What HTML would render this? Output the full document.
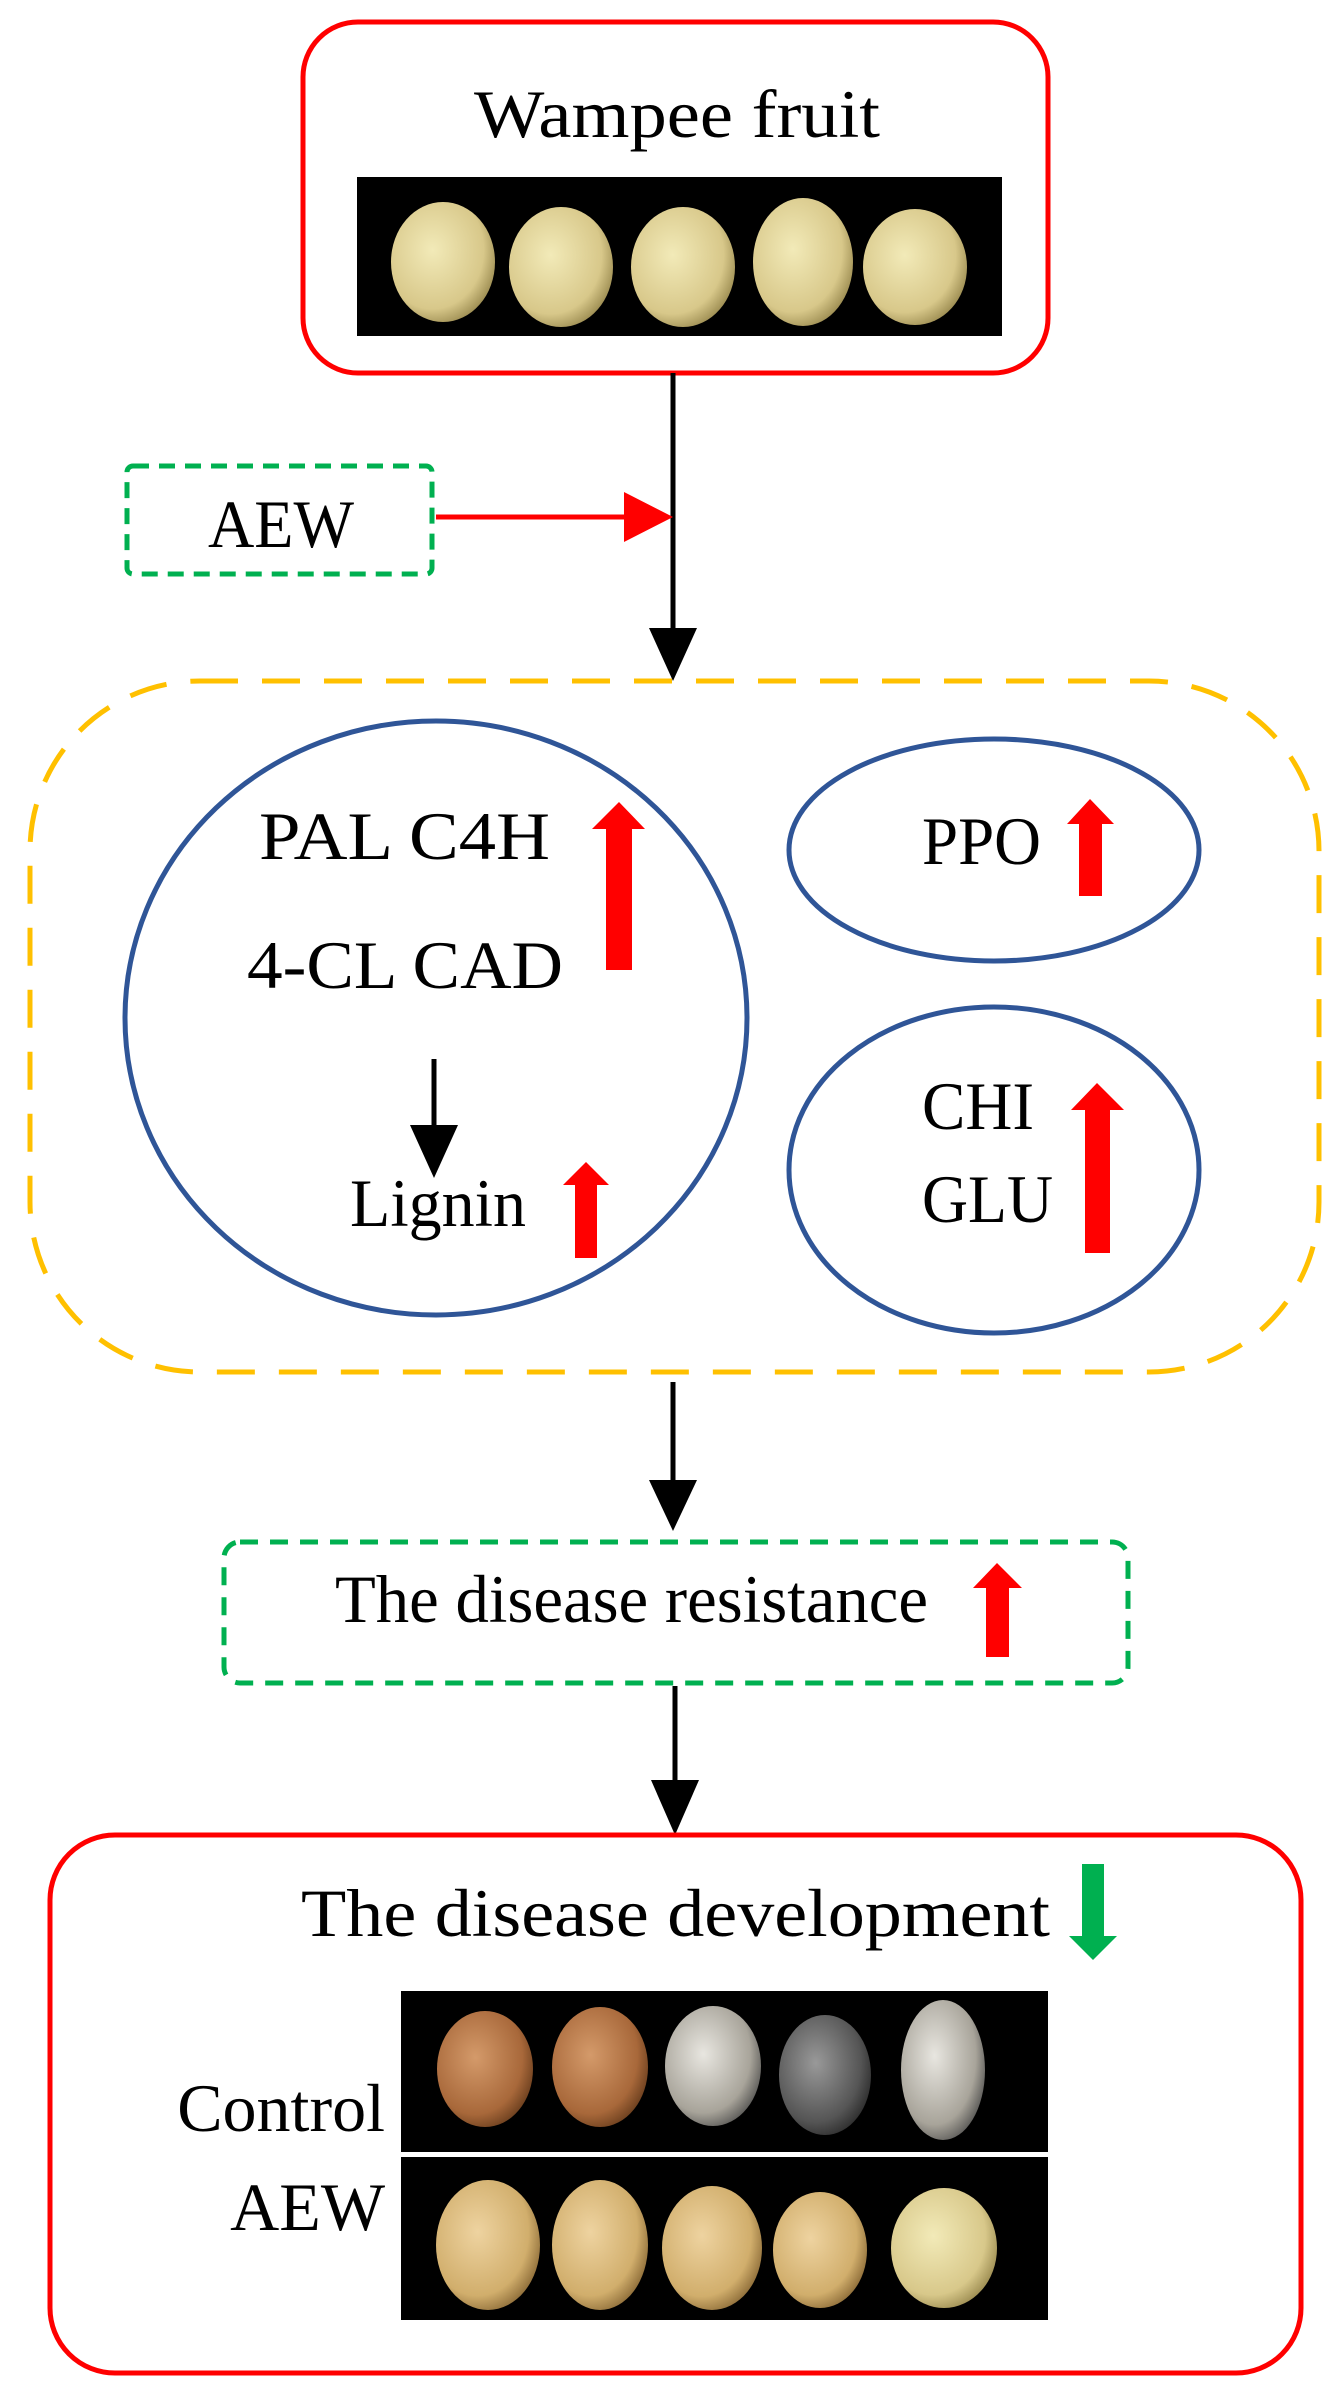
<!DOCTYPE html>
<html><head><meta charset="utf-8"><style>html,body{margin:0;padding:0;background:#fff}svg{display:block}</style></head><body>
<svg width="1340" height="2388" viewBox="0 0 1340 2388" xmlns="http://www.w3.org/2000/svg" font-family="Liberation Serif, serif" fill="#000">
<defs>
<radialGradient id="g1" cx="0.4" cy="0.4" r="0.7"><stop offset="0" stop-color="#f2eab8"/><stop offset="0.7" stop-color="#d8c88a"/><stop offset="1" stop-color="#8a7a40"/></radialGradient>
<radialGradient id="g2" cx="0.4" cy="0.4" r="0.7"><stop offset="0" stop-color="#eed3a0"/><stop offset="0.7" stop-color="#d1ae6c"/><stop offset="1" stop-color="#7a5a2a"/></radialGradient>
<radialGradient id="g3" cx="0.4" cy="0.4" r="0.7"><stop offset="0" stop-color="#d49a6a"/><stop offset="0.7" stop-color="#a8683a"/><stop offset="1" stop-color="#5a3316"/></radialGradient>
<radialGradient id="g4" cx="0.4" cy="0.4" r="0.7"><stop offset="0" stop-color="#e8e6e0"/><stop offset="0.7" stop-color="#a8a49a"/><stop offset="1" stop-color="#444"/></radialGradient>
<radialGradient id="g5" cx="0.4" cy="0.4" r="0.7"><stop offset="0" stop-color="#999"/><stop offset="0.7" stop-color="#555"/><stop offset="1" stop-color="#222"/></radialGradient>
</defs>
<!-- top box -->
<rect x="303" y="22" width="745" height="351" rx="55" fill="none" stroke="#f00" stroke-width="5"/>
<text x="474" y="137" font-size="68" textLength="406" lengthAdjust="spacingAndGlyphs">Wampee fruit</text>
<rect x="357" y="177" width="645" height="159" fill="#000"/>
<g>
<ellipse cx="443" cy="262" rx="52" ry="60" fill="url(#g1)"/>
<ellipse cx="561" cy="267" rx="52" ry="60" fill="url(#g1)"/>
<ellipse cx="683" cy="267" rx="52" ry="60" fill="url(#g1)"/>
<ellipse cx="803" cy="262" rx="50" ry="64" fill="url(#g1)"/>
<ellipse cx="915" cy="267" rx="52" ry="58" fill="url(#g1)"/>
</g>
<!-- line from top box -->
<line x1="673" y1="373" x2="673" y2="632" stroke="#000" stroke-width="5"/>
<polygon points="649,628 697,628 673,681" fill="#000"/>
<!-- AEW box -->
<rect x="127" y="466" width="305" height="108" rx="6" fill="none" stroke="#00b050" stroke-width="5" stroke-dasharray="16,10"/>
<text x="208" y="547" font-size="68" textLength="146" lengthAdjust="spacingAndGlyphs">AEW</text>
<line x1="436" y1="517" x2="628" y2="517" stroke="#f00" stroke-width="5"/>
<polygon points="624,492 673,517 624,542" fill="#f00"/>
<!-- yellow box -->
<rect x="30" y="681" width="1289" height="691" rx="170" fill="none" stroke="#ffc000" stroke-width="5" stroke-dasharray="38,24"/>
<!-- big circle -->
<ellipse cx="436" cy="1018" rx="311" ry="297" fill="none" stroke="#2f5597" stroke-width="5"/>
<text x="259" y="859" font-size="68" textLength="291" lengthAdjust="spacingAndGlyphs">PAL C4H</text>
<text x="247" y="988" font-size="68" textLength="316" lengthAdjust="spacingAndGlyphs">4-CL CAD</text>
<polygon points="606,970 632,970 632,829 645,829 619,802 592,829 606,829" fill="#f00"/>
<line x1="434" y1="1059" x2="434" y2="1130" stroke="#000" stroke-width="5"/>
<polygon points="410,1125 458,1125 434,1178" fill="#000"/>
<text x="350" y="1226" font-size="68" textLength="176" lengthAdjust="spacingAndGlyphs">Lignin</text>
<polygon points="575,1258 597,1258 597,1185 609,1185 586,1162 563,1185 575,1185" fill="#f00"/>
<!-- PPO ellipse -->
<ellipse cx="994" cy="850" rx="205" ry="111" fill="none" stroke="#2f5597" stroke-width="5"/>
<text x="922" y="864" font-size="68" textLength="119" lengthAdjust="spacingAndGlyphs">PPO</text>
<polygon points="1079,896 1102,896 1102,824 1114,824 1090,799 1067,824 1079,824" fill="#f00"/>
<!-- CHI GLU -->
<ellipse cx="994" cy="1170" rx="205" ry="163" fill="none" stroke="#2f5597" stroke-width="5"/>
<text x="922" y="1129" font-size="68" textLength="112" lengthAdjust="spacingAndGlyphs">CHI</text>
<text x="922" y="1222" font-size="68" textLength="131" lengthAdjust="spacingAndGlyphs">GLU</text>
<polygon points="1085,1253 1110,1253 1110,1110 1124,1110 1097,1083 1071,1110 1085,1110" fill="#f00"/>
<!-- arrow to resistance -->
<line x1="673" y1="1382" x2="673" y2="1485" stroke="#000" stroke-width="5"/>
<polygon points="649,1480 697,1480 673,1531" fill="#000"/>
<rect x="224" y="1542" width="904" height="141" rx="16" fill="none" stroke="#00b050" stroke-width="5" stroke-dasharray="18,12"/>
<text x="335" y="1622" font-size="68" textLength="593" lengthAdjust="spacingAndGlyphs">The disease resistance</text>
<polygon points="986,1657 1009,1657 1009,1588 1022,1588 997,1563 973,1588 986,1588" fill="#f00"/>
<line x1="675" y1="1686" x2="675" y2="1785" stroke="#000" stroke-width="5"/>
<polygon points="651,1780 699,1780 675,1835" fill="#000"/>
<!-- bottom box -->
<rect x="50" y="1835" width="1251" height="538" rx="65" fill="none" stroke="#f00" stroke-width="5"/>
<text x="301" y="1936" font-size="68" textLength="749" lengthAdjust="spacingAndGlyphs">The disease development</text>
<polygon points="1082,1864 1104,1864 1104,1936 1117,1936 1093,1960 1069,1936 1082,1936" fill="#00b050"/>
<rect x="401" y="1991" width="647" height="161" fill="#000"/>
<rect x="401" y="2157" width="647" height="163" fill="#000"/>
<ellipse cx="485" cy="2069" rx="48" ry="58" fill="url(#g3)"/>
<ellipse cx="600" cy="2067" rx="48" ry="60" fill="url(#g3)"/>
<ellipse cx="713" cy="2066" rx="48" ry="60" fill="url(#g4)"/>
<ellipse cx="825" cy="2075" rx="46" ry="60" fill="url(#g5)"/>
<ellipse cx="943" cy="2070" rx="42" ry="70" fill="url(#g4)"/>
<ellipse cx="488" cy="2245" rx="52" ry="65" fill="url(#g2)"/>
<ellipse cx="600" cy="2245" rx="48" ry="65" fill="url(#g2)"/>
<ellipse cx="712" cy="2248" rx="50" ry="62" fill="url(#g2)"/>
<ellipse cx="820" cy="2250" rx="47" ry="58" fill="url(#g2)"/>
<ellipse cx="944" cy="2248" rx="53" ry="60" fill="url(#g1)"/>
<text x="385" y="2131" font-size="68" text-anchor="end">Control</text>
<text x="385" y="2230" font-size="68" text-anchor="end">AEW</text>
</svg>
</body></html>
